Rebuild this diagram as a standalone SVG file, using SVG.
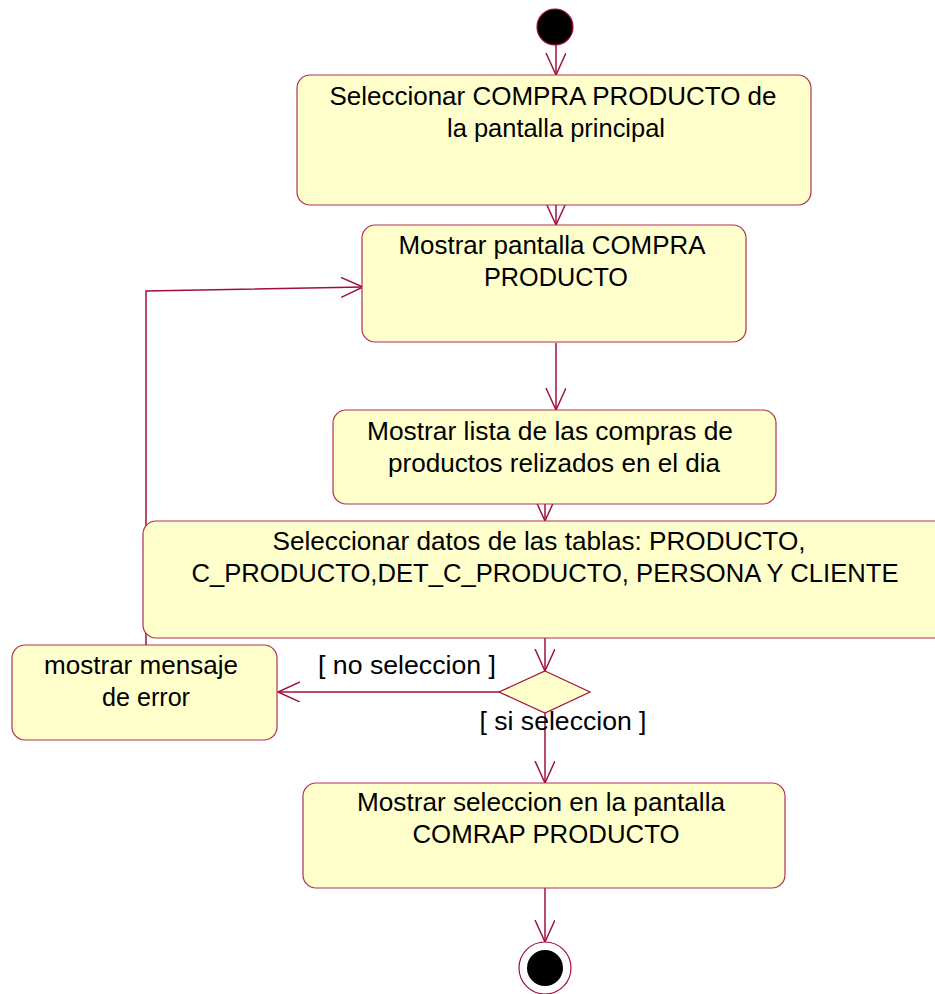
<svg xmlns="http://www.w3.org/2000/svg" width="935" height="994" viewBox="0 0 935 994">
<style>
.box{fill:#FFFFCC;stroke:#B03050;stroke-width:1.2}
.ln{fill:none;stroke:#A0103C;stroke-width:1.5}
.t{font-family:"Liberation Sans",Arial,sans-serif;font-size:25px;fill:#000;text-anchor:middle}
</style>
<defs>
<marker id="ah" markerWidth="24" markerHeight="24" refX="22" refY="10" orient="auto" markerUnits="userSpaceOnUse">
<path d="M0,0 L22,10 L0,20" fill="none" stroke="#A0103C" stroke-width="1.5"/>
</marker>
</defs>
<rect width="935" height="994" fill="#fff"/>
<g id="connectors">
<line class="ln" x1="556" y1="45" x2="556" y2="75" marker-end="url(#ah)"/>
<line class="ln" x1="556" y1="205" x2="556" y2="225" marker-end="url(#ah)"/>
<line class="ln" x1="556" y1="343" x2="556" y2="410" marker-end="url(#ah)"/>
<line class="ln" x1="545" y1="497" x2="545" y2="521" marker-end="url(#ah)"/>
<line class="ln" x1="545" y1="638" x2="545" y2="671" marker-end="url(#ah)"/>
<line class="ln" x1="499" y1="692" x2="278" y2="692" marker-end="url(#ah)"/>
<line class="ln" x1="545" y1="713" x2="545" y2="783" marker-end="url(#ah)"/>
<polyline class="ln" points="146,645 146,291 363,287" marker-end="url(#ah)"/>
<line class="ln" x1="545" y1="888" x2="545" y2="942" marker-end="url(#ah)"/>
<text class="t" x="407" y="674" textLength="178" lengthAdjust="spacingAndGlyphs">[ no seleccion ]</text>
<text class="t" x="563" y="730" textLength="167" lengthAdjust="spacingAndGlyphs">[ si seleccion ]</text>
</g>
<g id="start"><circle cx="555" cy="27" r="18" fill="#000" stroke="#A0103C" stroke-width="1.2"/></g>
<g id="n1">
<rect class="box" x="297" y="75" width="514" height="130" rx="13"/>
<text class="t" x="553" y="105" textLength="447" lengthAdjust="spacingAndGlyphs">Seleccionar COMPRA PRODUCTO de</text>
<text class="t" x="556" y="137" textLength="218" lengthAdjust="spacingAndGlyphs">la pantalla principal</text>
</g>
<g id="n2">
<rect class="box" x="362" y="225" width="384" height="117" rx="13"/>
<text class="t" x="552" y="254" textLength="307" lengthAdjust="spacingAndGlyphs">Mostrar pantalla COMPRA</text>
<text class="t" x="556" y="286" textLength="144" lengthAdjust="spacingAndGlyphs">PRODUCTO</text>
</g>
<g id="n3">
<rect class="box" x="333" y="410" width="443" height="94" rx="13"/>
<text class="t" x="550" y="440" textLength="366" lengthAdjust="spacingAndGlyphs">Mostrar lista de las compras de</text>
<text class="t" x="554" y="472" textLength="332" lengthAdjust="spacingAndGlyphs">productos relizados en el dia</text>
</g>
<g id="n4">
<rect class="box" x="143" y="521" width="805" height="117" rx="13"/>
<text class="t" x="539" y="550" textLength="533" lengthAdjust="spacingAndGlyphs">Seleccionar datos de las tablas: PRODUCTO,</text>
<text class="t" x="545" y="582" textLength="707" lengthAdjust="spacingAndGlyphs">C_PRODUCTO,DET_C_PRODUCTO, PERSONA Y CLIENTE</text>
</g>
<g id="decision"><polygon points="545,671 590,692 545,713 499,692" fill="#FFFFCC" stroke="#A0103C" stroke-width="1.2"/></g>
<g id="error">
<rect class="box" x="12" y="645" width="265" height="95" rx="13"/>
<text class="t" x="141" y="674" textLength="194" lengthAdjust="spacingAndGlyphs">mostrar mensaje</text>
<text class="t" x="146" y="706" textLength="88" lengthAdjust="spacingAndGlyphs">de error</text>
</g>
<g id="n6">
<rect class="box" x="303" y="783" width="482" height="105" rx="13"/>
<text class="t" x="541" y="811" textLength="368" lengthAdjust="spacingAndGlyphs">Mostrar seleccion en la pantalla</text>
<text class="t" x="546" y="843" textLength="267" lengthAdjust="spacingAndGlyphs">COMRAP PRODUCTO</text>
</g>
<g id="end">
<circle cx="545" cy="968" r="26" fill="#fff" stroke="#A0103C" stroke-width="1.2"/>
<circle cx="545" cy="968" r="18" fill="#000"/>
</g>
</svg>
